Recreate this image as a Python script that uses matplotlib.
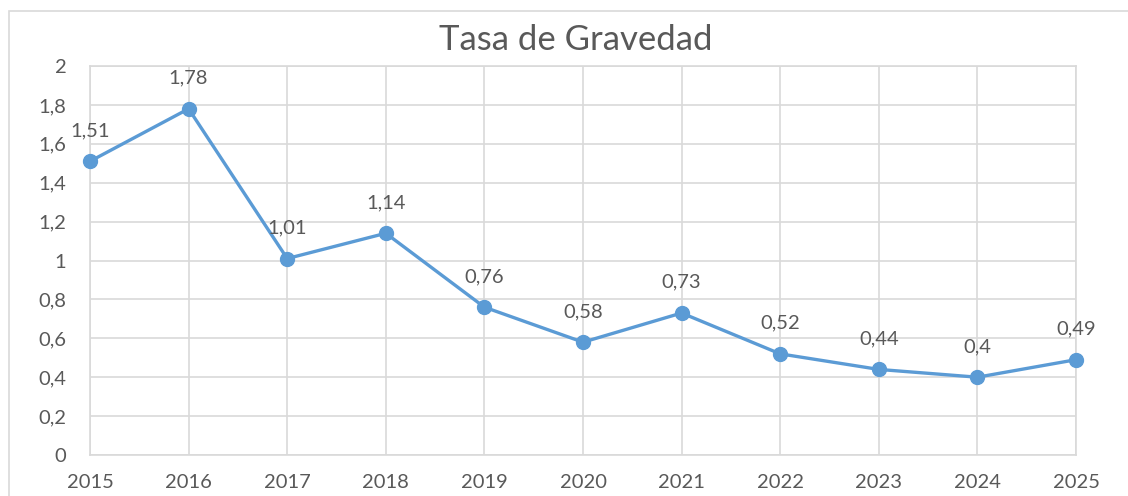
import matplotlib
matplotlib.use("Agg")
import matplotlib.pyplot as plt
from matplotlib.patches import Rectangle
from matplotlib.ticker import FuncFormatter

years = [2015, 2016, 2017, 2018, 2019, 2020, 2021, 2022, 2023, 2024, 2025]
values = [1.51, 1.78, 1.01, 1.14, 0.76, 0.58, 0.73, 0.52, 0.44, 0.40, 0.49]
title = "Tasa de Gravedad"

plt.rcParams['font.family'] = ['Lato', 'DejaVu Sans']
txt = '#595959'
grid = '#D9D9D9'
line = '#5B9BD5'

W, H = 1128, 496
fig = plt.figure(figsize=(W/100, H/100), dpi=100)
fig.patches.append(Rectangle((9/W, -0.1), 1.2, 1 - 11/H + 0.1, transform=fig.transFigure,
                             fill=False, edgecolor='#D9D9D9', linewidth=1.2))

ax = fig.add_axes([90/W, 1 - 455/H, (1076 - 90)/W, (455 - 66)/H])
ax.plot(years, values, color=line, linewidth=2.4, marker='o', markersize=10,
        markerfacecolor=line, markeredgecolor=line, zorder=3, clip_on=False)

ax.set_xlim(years[0], years[-1])
ax.set_ylim(0, 2)
ax.set_xticks(years)
ax.set_yticks([i * 0.2 for i in range(11)])
fmt = lambda v, p: ('%g' % round(v, 2)).replace('.', ',')
ax.yaxis.set_major_formatter(FuncFormatter(fmt))
ax.grid(True, color=grid, linewidth=1.2)
ax.set_axisbelow(True)
for s in ax.spines.values():
    s.set_color(grid)
    s.set_linewidth(1.2)
ax.tick_params(length=0, labelsize=14.5, labelcolor=txt)
ax.tick_params(axis='y', pad=17)
ax.tick_params(axis='x', pad=14)

for x, v in zip(years, values):
    ax.annotate(fmt(v, None), (x, v), xytext=(0, 16), textcoords='offset points',
                ha='center', va='bottom', fontsize=14.5, color=txt, zorder=4)

fig.text(576/W, 1 - 40/H, title, ha='center', va='center', fontsize=25, color=txt)

fig.savefig('out.png', dpi=100)
